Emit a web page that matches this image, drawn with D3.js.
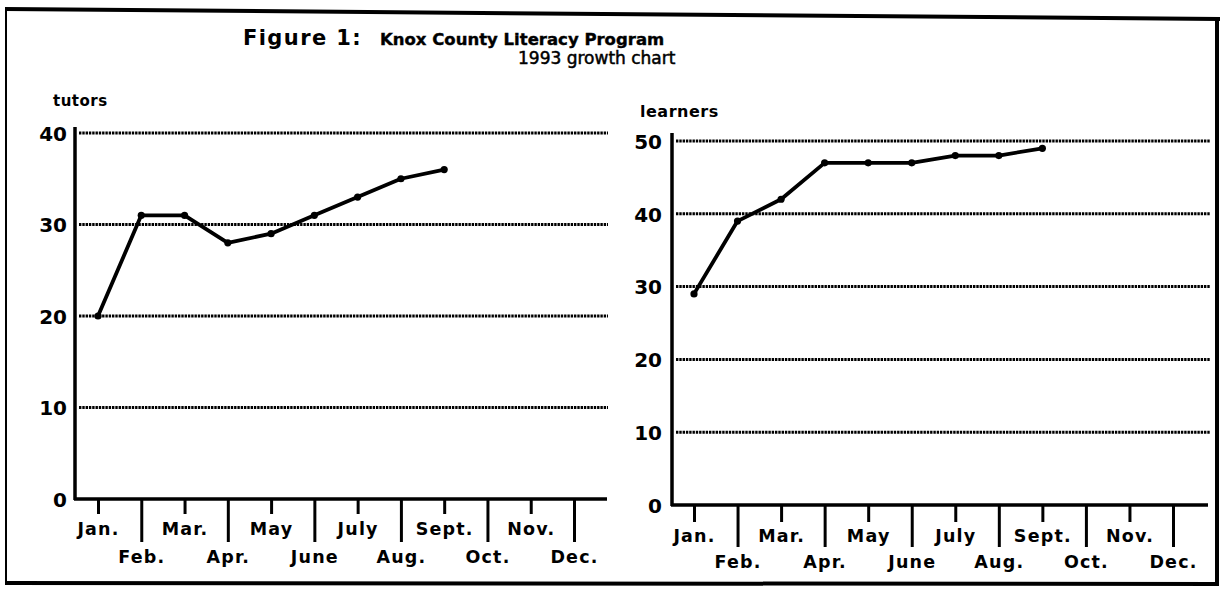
<!DOCTYPE html>
<html>
<head>
<meta charset="utf-8">
<script src="https://cdn.jsdelivr.net/npm/d3@7"></script>
<style>
  html, body { margin: 0; padding: 0; background: #fff; }
  .canvas { width: 1223px; height: 596px; }
  text { font-family: 'DejaVu Sans', sans-serif; fill: #000; }
</style>
</head>
<body>
<div class="canvas"></div>
<script>
const months = ['Jan.', 'Feb.', 'Mar.', 'Apr.', 'May', 'June', 'July', 'Aug.', 'Sept.', 'Oct.', 'Nov.', 'Dec.'];
const tutors = [20, 31, 31, 28, 29, 31, 33, 35, 36];
const learners = [29, 39, 42, 47, 47, 47, 48, 48, 49];
const tutorTicks = [0, 10, 20, 30, 40];
const learnerTicks = [0, 10, 20, 30, 40, 50];

const panels = [
  {
    id: 'tutorsPanel', values: tutors, ticks: tutorTicks, label: 'tutors',
    x0: 75, x1: 607, firstTick: 98, lastTick: 574, gridEnd: 608,
    yBottom: 499, yTop: 133, axisTop: 127, labelX: 53, labelY: 106, labelSize: 15,
    tickPad: 8, shortTick: 15, longTick: 43, oddY: 36, evenY: 64,
  },
  {
    id: 'learnersPanel', values: learners, ticks: learnerTicks, label: 'learners',
    x0: 672, x1: 1208, firstTick: 694, lastTick: 1173, gridEnd: 1210,
    yBottom: 505, yTop: 141, axisTop: 133, labelX: 640, labelY: 117, labelSize: 16,
    tickPad: 10, shortTick: 17, longTick: 42, oddY: 37, evenY: 63,
  },
];

const svg = d3
  .select('.canvas')
  .append('svg')
  .attr('width', 1223)
  .attr('height', 596);

// outer frame, the top edge is a little skewed like the scan
const frameInit = () => {
  const frame = svg.append('g').attr('id', 'frame').attr('stroke', '#000').attr('fill', 'none');
  frame.append('line').attr('x1', 5).attr('y1', 9).attr('x2', 1220).attr('y2', 19).attr('stroke-width', 4);
  frame.append('line').attr('x1', 6).attr('y1', 9).attr('x2', 6).attr('y2', 584).attr('stroke-width', 2);
  frame.append('line').attr('x1', 1217).attr('y1', 19).attr('x2', 1217).attr('y2', 584).attr('stroke-width', 4);
  frame.append('line').attr('x1', 5).attr('y1', 583).attr('x2', 1219).attr('y2', 584).attr('stroke-width', 4);
};

const titleDrawing = () => {
  svg.append('text')
    .attr('x', 243)
    .attr('y', 45)
    .attr('font-size', 21)
    .attr('font-weight', 'bold')
    .attr('letter-spacing', 1.4)
    .text('Figure 1:');
  svg.append('text')
    .attr('x', 380)
    .attr('y', 45)
    .attr('font-size', 16.5)
    .attr('font-weight', 'bold')
    .attr('stroke', '#000')
    .attr('stroke-width', 0.4)
    .text('Knox County Literacy Program');
  svg.append('text')
    .attr('x', 518)
    .attr('y', 64)
    .attr('font-size', 17)
    .attr('stroke', '#000')
    .attr('stroke-width', 0.5)
    .text('1993 growth chart');
};

const panelDrawing = p => {
  const g = svg.append('g').attr('id', p.id);
  const x = d3.scaleLinear().domain([0, 11]).range([p.firstTick, p.lastTick]);
  const y = d3.scaleLinear().domain([0, d3.max(p.ticks)]).range([p.yBottom, p.yTop]);

  // dotted gridlines
  g.append('g')
    .attr('id', `${p.id}Grid`)
    .selectAll('line')
    .data(p.ticks.filter(t => t > 0))
    .join('line')
    .attr('x1', p.x0 + 4)
    .attr('x2', p.gridEnd)
    .attr('y1', d => y(d))
    .attr('y2', d => y(d))
    .attr('stroke', '#000')
    .attr('stroke-width', 3)
    .attr('stroke-dasharray', '2.4 0.9');

  // y axis labels
  const gy = g.append('g')
    .attr('transform', `translate(${p.x0},0)`)
    .call(d3.axisLeft(y).tickValues(p.ticks).tickSize(0).tickPadding(p.tickPad));
  gy.select('.domain').remove();
  gy.selectAll('.tick text')
    .attr('font-family', 'DejaVu Sans')
    .attr('font-size', 20)
    .attr('font-weight', 'bold')
    .attr('fill', '#000')
    .attr('dy', '0.36em');

  // month axis with alternating tick lengths
  const gx = g.append('g')
    .attr('transform', `translate(0,${p.yBottom})`)
    .call(d3.axisBottom(x).tickValues(d3.range(12)).tickFormat(i => months[i]).tickSizeOuter(0));
  gx.select('.domain').remove();
  gx.selectAll('.tick line')
    .attr('stroke', '#000')
    .attr('stroke-width', 3)
    .attr('y2', d => (d % 2 ? p.longTick : p.shortTick));
  gx.selectAll('.tick text')
    .attr('font-family', 'DejaVu Sans')
    .attr('font-size', 17.5)
    .attr('font-weight', 'bold')
    .attr('letter-spacing', 1.2)
    .attr('fill', '#000')
    .attr('dy', 0)
    .attr('y', d => (d % 2 ? p.evenY : p.oddY));

  // axis lines
  g.append('line')
    .attr('x1', p.x0).attr('x2', p.x0)
    .attr('y1', p.axisTop).attr('y2', p.yBottom + 1)
    .attr('stroke', '#000').attr('stroke-width', 3.5);
  g.append('line')
    .attr('x1', p.x0 - 1).attr('x2', p.x1)
    .attr('y1', p.yBottom).attr('y2', p.yBottom)
    .attr('stroke', '#000').attr('stroke-width', 3.5);

  g.append('text')
    .attr('x', p.labelX)
    .attr('y', p.labelY)
    .attr('font-size', p.labelSize)
    .attr('font-weight', 'bold')
    .attr('letter-spacing', 0.5)
    .text(p.label);

  // the series
  const line = d3.line().x((d, i) => x(i)).y(d => y(d));
  g.append('path')
    .datum(p.values)
    .attr('d', line)
    .attr('fill', 'none')
    .attr('stroke', '#000')
    .attr('stroke-width', 3.8)
    .attr('stroke-linejoin', 'round');
  g.append('g')
    .selectAll('circle')
    .data(p.values)
    .join('circle')
    .attr('cx', (d, i) => x(i))
    .attr('cy', d => y(d))
    .attr('r', 3.6)
    .attr('fill', '#000');
};

frameInit();
titleDrawing();
panels.forEach(panelDrawing);
</script>
</body>
</html>
